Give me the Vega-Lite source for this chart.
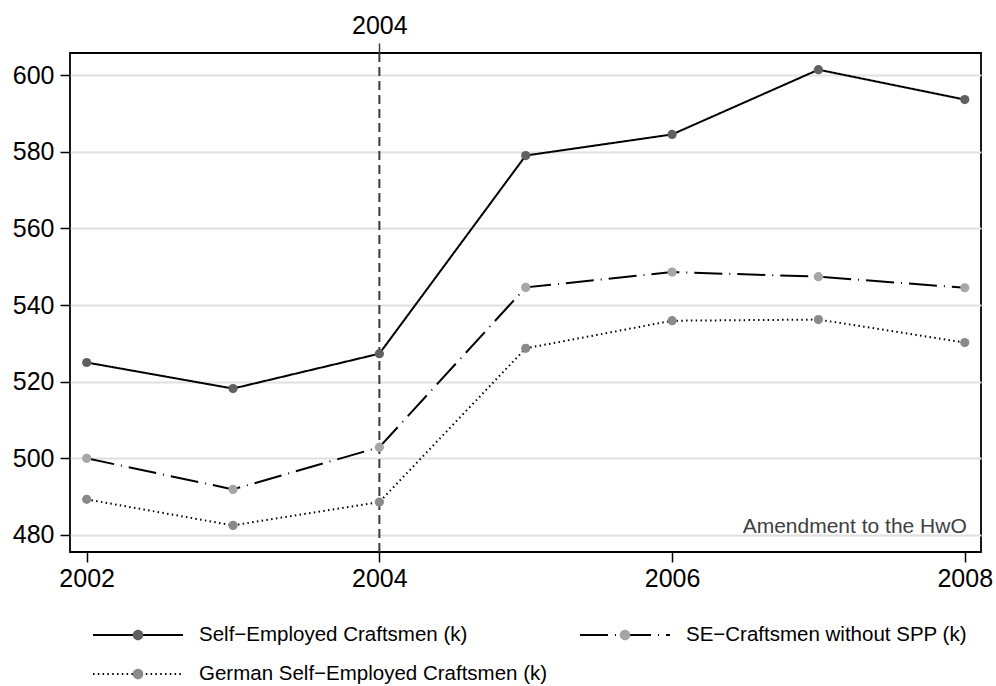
{
  "$schema": "https://vega.github.io/schema/vega-lite/v6.json",
  "width": 911,
  "height": 499,
  "autosize": "none",
  "padding": {"left": 70, "top": 53, "right": 15, "bottom": 134},
  "background": "white",
  "config": {
    "view": {"stroke": "black", "strokeWidth": 1.8},
    "font": "Liberation Sans",
    "axis": {
      "labelFont": "Liberation Sans",
      "labelColor": "black",
      "labelFontSize": 25,
      "tickColor": "black",
      "tickWidth": 1.5,
      "tickSize": 10,
      "domain": false,
      "title": null
    }
  },
  "datasets": {
    "counts": [
      {"year": 2002, "series": "Self−Employed Craftsmen (k)", "value": 525.0},
      {"year": 2003, "series": "Self−Employed Craftsmen (k)", "value": 518.2},
      {"year": 2004, "series": "Self−Employed Craftsmen (k)", "value": 527.3},
      {"year": 2005, "series": "Self−Employed Craftsmen (k)", "value": 579.0},
      {"year": 2006, "series": "Self−Employed Craftsmen (k)", "value": 584.5},
      {"year": 2007, "series": "Self−Employed Craftsmen (k)", "value": 601.4},
      {"year": 2008, "series": "Self−Employed Craftsmen (k)", "value": 593.6},
      {"year": 2002, "series": "German Self−Employed Craftsmen (k)", "value": 489.3},
      {"year": 2003, "series": "German Self−Employed Craftsmen (k)", "value": 482.5},
      {"year": 2004, "series": "German Self−Employed Craftsmen (k)", "value": 488.6},
      {"year": 2005, "series": "German Self−Employed Craftsmen (k)", "value": 528.7},
      {"year": 2006, "series": "German Self−Employed Craftsmen (k)", "value": 535.9},
      {"year": 2007, "series": "German Self−Employed Craftsmen (k)", "value": 536.2},
      {"year": 2008, "series": "German Self−Employed Craftsmen (k)", "value": 530.2},
      {"year": 2002, "series": "SE−Craftsmen without SPP (k)", "value": 500.0},
      {"year": 2003, "series": "SE−Craftsmen without SPP (k)", "value": 491.9},
      {"year": 2004, "series": "SE−Craftsmen without SPP (k)", "value": 502.9},
      {"year": 2005, "series": "SE−Craftsmen without SPP (k)", "value": 544.6},
      {"year": 2006, "series": "SE−Craftsmen without SPP (k)", "value": 548.6},
      {"year": 2007, "series": "SE−Craftsmen without SPP (k)", "value": 547.4},
      {"year": 2008, "series": "SE−Craftsmen without SPP (k)", "value": 544.5}
    ],
    "reform": [{"year": 2004}],
    "note": [{"year": 2008, "value": 480, "label": "Amendment to the HwO"}]
  },
  "resolve": {"axis": {"x": "independent"}},
  "layer": [
    {
      "data": {"name": "reform"},
      "mark": {"type": "rule", "strokeDash": [9, 5], "color": "#3a3a3a", "strokeWidth": 2},
      "encoding": {
        "x": {
          "field": "year",
          "type": "quantitative",
          "scale": {"domain": [2001.886, 2008.111], "nice": false, "zero": false},
          "axis": {"orient": "top", "values": [2004], "format": "d", "labelPadding": 5, "grid": false, "tickColor": "#3a3a3a"}
        }
      }
    },
    {
      "data": {"name": "counts"},
      "mark": {"type": "line", "color": "black", "strokeWidth": 2},
      "encoding": {
        "x": {
          "field": "year",
          "type": "quantitative",
          "scale": {"domain": [2001.886, 2008.111], "nice": false, "zero": false},
          "axis": {"orient": "bottom", "values": [2002, 2004, 2006, 2008], "format": "d", "labelPadding": 4, "grid": false}
        },
        "y": {
          "field": "value",
          "type": "quantitative",
          "scale": {"domain": [475.56, 605.75], "nice": false, "zero": false},
          "axis": {"values": [480, 500, 520, 540, 560, 580, 600], "labelPadding": 6, "grid": true, "gridColor": "#e0e0e0", "gridWidth": 2}
        },
        "strokeDash": {
          "field": "series",
          "type": "nominal",
          "sort": null,
          "scale": {"range": [[1, 0], [1.5, 3.3], [28, 7, 1, 7]]},
          "legend": {
            "title": null,
            "orient": "none",
            "legendX": 22,
            "legendY": 567,
            "columns": 2,
            "symbolType": "stroke",
            "symbolSize": 8100,
            "symbolStrokeWidth": 2,
            "symbolStrokeColor": "black",
            "clipHeight": 30,
            "rowPadding": 9,
            "columnPadding": 31,
            "labelFont": "Liberation Sans",
            "labelFontSize": 20.5,
            "labelColor": "black",
            "labelOffset": 15,
            "labelLimit": 600,
            "padding": 0,
            "zindex": 1
          }
        }
      }
    },
    {
      "data": {"name": "counts"},
      "mark": {"type": "circle", "size": 85, "opacity": 1},
      "encoding": {
        "x": {"field": "year", "type": "quantitative", "axis": null},
        "y": {"field": "value", "type": "quantitative"},
        "color": {
          "field": "series",
          "type": "nominal",
          "scale": {
            "domain": ["Self−Employed Craftsmen (k)", "German Self−Employed Craftsmen (k)", "SE−Craftsmen without SPP (k)"],
            "range": ["#606060", "#8a8a8a", "#a6a6a6"]
          },
          "legend": {
            "title": null,
            "orient": "none",
            "legendX": 22,
            "legendY": 567,
            "columns": 2,
            "symbolType": "M-0.117,0A0.117,0.117 0 1,0 0.117,0A0.117,0.117 0 1,0 -0.117,0Z",
            "symbolSize": 8100,
            "symbolStrokeWidth": 2,
            "symbolStrokeColor": "transparent",
            "symbolOpacity": 1,
            "clipHeight": 30,
            "rowPadding": 9,
            "columnPadding": 31,
            "labelFont": "Liberation Sans",
            "labelFontSize": 20.5,
            "labelColor": "transparent",
            "labelOffset": 15,
            "labelLimit": 600,
            "padding": 0,
            "zindex": 2
          }
        }
      }
    },
    {
      "data": {"name": "note"},
      "mark": {"type": "text", "align": "right", "baseline": "alphabetic", "dx": 2, "dy": -2, "fontSize": 21, "color": "#404040", "font": "Liberation Sans"},
      "encoding": {
        "x": {"field": "year", "type": "quantitative", "axis": null},
        "y": {"field": "value", "type": "quantitative"},
        "text": {"field": "label"}
      }
    }
  ]
}
